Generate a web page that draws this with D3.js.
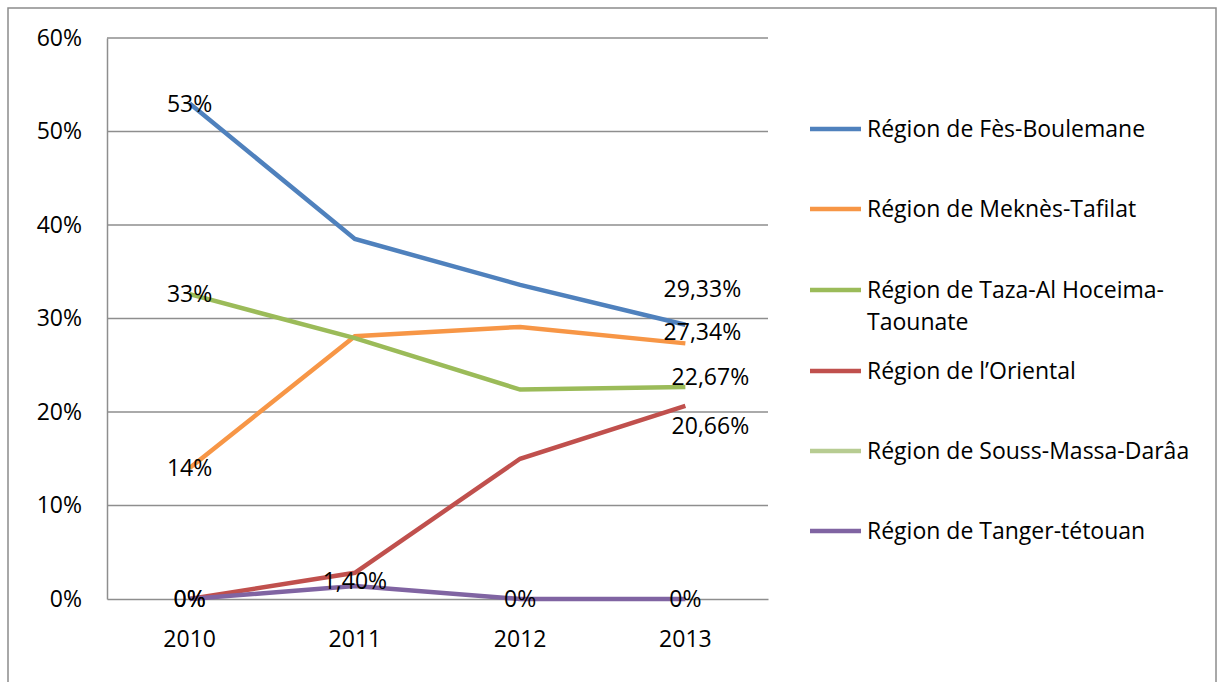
<!DOCTYPE html>
<html>
<head>
<meta charset="utf-8">
<script src="https://cdn.jsdelivr.net/npm/d3@7"></script>
<style>
  body { margin: 0; background: #fff; }
  svg { display: block; font-family: "Open Sans", "Lato", sans-serif; }
</style>
</head>
<body>
<svg id="chart" width="1217" height="682"></svg>
<script>
// chart data
const years = ["2010", "2011", "2012", "2013"]
const regions = [
  "Région de Fès-Boulemane",
  "Région de Meknès-Tafilat",
  "Région de Taza-Al Hoceima-Taounate",
  "Région de l’Oriental",
  "Région de Souss-Massa-Darâa",
  "Région de Tanger-tétouan"
]
const fes = [0.53, 0.385, 0.336, 0.2933]
const meknes = [0.14, 0.281, 0.291, 0.2734]
const taza = [0.326, 0.279, 0.224, 0.2267]
const oriental = [0.0, 0.028, 0.150, 0.2066]
const souss = [null, null, null, null]
const tanger = [0.0, 0.014, 0.0, 0.0]
const yTicks = [0, 0.1, 0.2, 0.3, 0.4, 0.5, 0.6]
// data labels as shown (null = no label)
const labels = [
  ["53%", null, null, "29,33%"],
  ["14%", null, null, "27,34%"],
  ["33%", null, null, "22,67%"],
  ["0%", null, null, "20,66%"],
  [null, null, null, null],
  ["0%", "1,40%", "0%", "0%"]
]

const colors = ["#4F81BD", "#F79646", "#9BBB59", "#C0504D", "#B7CC92", "#8064A2"]
const seriesValues = [fes, meknes, taza, oriental, souss, tanger]
// small manual nudges for some labels, like in the source chart
const labelShift = {
  "0-3": [17, -36], "1-3": [17, -11], "2-3": [25, -10], "3-3": [25, 20],
  "5-1": [0, -5]
}

const svg = d3.select("#chart")
const margin = { left: 107, top: 38, right: 449, bottom: 83 }
const W = 1217, H = 682
const fontSize = 23

svg.append("rect")
  .attr("x", 8).attr("y", 8)
  .attr("width", W - 9).attr("height", H)
  .attr("fill", "none")
  .attr("stroke", "#8c8c8c")
  .attr("stroke-width", 1.5)

const x = d3.scaleBand()
  .domain(years)
  .range([margin.left, W - margin.right])
const y = d3.scaleLinear()
  .domain([0, 0.6])
  .range([H - margin.bottom, margin.top])

// gridlines
svg.append("g")
  .selectAll("line")
  .data(yTicks.filter(d => d > 0))
  .join("line")
  .attr("x1", margin.left)
  .attr("x2", W - margin.right)
  .attr("y1", d => y(d))
  .attr("y2", d => y(d))
  .attr("stroke", "#8e8e8e")
  .attr("stroke-width", 1.5)

const yAxis = svg.append("g")
  .attr("transform", `translate(${margin.left},0)`)
  .call(d3.axisLeft(y).tickValues(yTicks).tickSize(0).tickPadding(25)
    .tickFormat(d3.format(".0%")))
yAxis.select(".domain").attr("stroke", "#8e8e8e").attr("stroke-width", 1.5)
yAxis.selectAll("text").attr("font-size", fontSize).attr("fill", "#000")
  .attr("font-family", "Open Sans")

const xAxis = svg.append("g")
  .attr("transform", `translate(0,${H - margin.bottom})`)
  .call(d3.axisBottom(x).tickSize(0).tickPadding(32))
xAxis.select(".domain").attr("stroke", "#8e8e8e").attr("stroke-width", 1.5)
xAxis.selectAll("text").attr("font-size", fontSize).attr("fill", "#000")
  .attr("font-family", "Open Sans")

const line = d3.line()
  .defined(d => d != null)
  .x((d, i) => x(years[i]) + x.bandwidth() / 2)
  .y(d => y(d))

// draw lines, last series on top
svg.append("g")
  .selectAll("path")
  .data(seriesValues)
  .join("path")
  .attr("d", d => line(d))
  .attr("fill", "none")
  .attr("stroke", (d, i) => colors[i])
  .attr("stroke-width", 4.5)

// data labels
const labelData = []
labels.forEach((row, s) => row.forEach((t, i) => {
  if (t) labelData.push({ s, i, t, v: seriesValues[s][i] })
}))
svg.append("g")
  .selectAll("text")
  .data(labelData)
  .join("text")
  .attr("x", d => x(years[d.i]) + x.bandwidth() / 2 + ((labelShift[d.s + "-" + d.i] || [0, 0])[0]))
  .attr("y", d => y(d.v) + ((labelShift[d.s + "-" + d.i] || [0, 0])[1]))
  .attr("dy", "0.35em")
  .attr("text-anchor", "middle")
  .attr("font-size", fontSize)
  .text(d => d.t)

// legend
const legendY = [129, 209, 290, 371, 451, 531]
const legend = svg.append("g")
  .selectAll("g")
  .data(regions)
  .join("g")
  .attr("transform", (d, i) => `translate(810,${legendY[i]})`)
legend.append("line")
  .attr("x1", 0).attr("x2", 51)
  .attr("stroke", (d, i) => colors[i])
  .attr("stroke-width", 4.5)
legend.append("text")
  .attr("x", 57)
  .attr("dy", "0.35em")
  .attr("font-size", fontSize)
  .each(function(d) {
    const t = d3.select(this)
    if (d.includes("Hoceima-")) {
      const [a, b] = d.split("Hoceima-")
      t.append("tspan").attr("x", 57).text(a + "Hoceima-")
      t.append("tspan").attr("x", 57).attr("dy", "1.4em").text(b)
    } else {
      t.text(d)
    }
  })
</script>
</body>
</html>
